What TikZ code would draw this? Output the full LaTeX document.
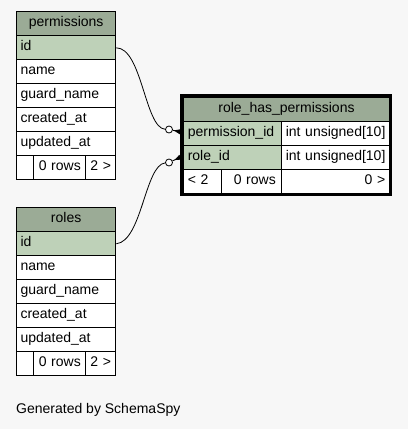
\documentclass[tikz,border=0pt]{standalone}
\usepackage{fontspec}
\setmainfont{Liberation Sans}
\usetikzlibrary{arrows.meta}
\definecolor{bg}{HTML}{F7F7F7}
\definecolor{hdr}{HTML}{9BAB96}
\definecolor{key}{HTML}{BED1B8}
\begin{document}
\begin{tikzpicture}[x=1pt,y=-1pt,
  cell/.style={draw=black, line width=1pt, anchor=north west, inner xsep=4pt, inner ysep=0pt,
    minimum height=24pt, text height=10pt, text depth=4pt,
    font=\fontsize{14}{16}\selectfont, align=left, fill=white},
  hcell/.style={cell, fill=hdr, align=center},
  kcell/.style={cell, fill=key},
  ccell/.style={cell, align=center},
  rcell/.style={cell, align=right},
  odot/.style={circle, draw=black, fill=white, minimum size=7pt, inner sep=0pt, line width=0.8pt},
  rel/.style={line width=0.8pt},
  crow/.style={line width=0.8pt, -{Triangle[reversed,length=7pt,width=5pt]}},
  frame/.style={line width=3pt}
]
\fill[bg] (0,0) rectangle (408,429);

% permissions
\node[hcell, text width=91.3pt] (p-h) at (16,11.3) {permissions};
\node[kcell, text width=91.3pt] (p-id) at (16,35.3) {id};
\node[cell, text width=91.3pt] (p-name) at (16,59.3) {name};
\node[cell, text width=91.3pt] (p-guard) at (16,83.3) {guard\_name};
\node[cell, text width=91.3pt] (p-cr) at (16,107.3) {created\_at};
\node[cell, text width=91.3pt] (p-up) at (16,131.3) {updated\_at};
\node[cell, text width=9.3pt] (p-f1) at (16,155.3) {};
\node[ccell, text width=44pt] (p-f2) at (33.3,155.3) {0 rows};
\node[ccell, text width=22pt] (p-f3) at (85.3,155.3) {2 >};

% roles
\node[hcell, text width=91.3pt] (r-h) at (16,207.3) {roles};
\node[kcell, text width=91.3pt] (r-id) at (16,231.3) {id};
\node[cell, text width=91.3pt] (r-name) at (16,255.3) {name};
\node[cell, text width=91.3pt] (r-guard) at (16,279.3) {guard\_name};
\node[cell, text width=91.3pt] (r-cr) at (16,303.3) {created\_at};
\node[cell, text width=91.3pt] (r-up) at (16,327.3) {updated\_at};
\node[cell, text width=9.3pt] (r-f1) at (16,351.3) {};
\node[ccell, text width=44pt] (r-f2) at (33.3,351.3) {0 rows};
\node[ccell, text width=22pt] (r-f3) at (85.3,351.3) {2 >};

% role_has_permissions
\draw[frame] (181,95.6) rectangle (390,194.1);
\node[hcell, text width=197.4pt, minimum height=23.4pt] (h-h) at (183.3,97.3) {role\_has\_permissions};
\node[kcell, text width=90pt] (h-pid) at (183.3,120.7) {\mbox{permission\_id}};
\node[cell, text width=99.4pt] (h-pidt) at (281.3,120.7) {\mbox{int unsigned[10]}};
\node[kcell, text width=90pt] (h-rid) at (183.3,144.7) {role\_id};
\node[cell, text width=99.4pt] (h-ridt) at (281.3,144.7) {\mbox{int unsigned[10]}};
\node[cell, text width=30pt] (h-f1) at (183.3,168.7) {< 2};
\node[ccell, text width=52pt] (h-f2) at (221.3,168.7) {\hspace*{6pt}0 rows};
\node[rcell, text width=99.4pt] (h-f3) at (281.3,168.7) {0 >};

% relationships
\node[odot] (c1) at (169,129.5) {};
\node[odot] (c2) at (169,162.5) {};
\coordinate (e1) at (180.5,131.8);
\coordinate (e2) at (180.5,157.2);
\draw[rel] (p-id.east) .. controls (142,48) and (145,128) .. (c1);
\draw[rel] (r-id.east) .. controls (142,241) and (145,165) .. (c2);
\draw[crow] (c1) -- (e1);
\draw[crow] (c2) -- (e2);

\node[anchor=base west, inner sep=0pt, font=\fontsize{14}{16}\selectfont] (gen) at (16,413.3) {Generated by SchemaSpy};
\end{tikzpicture}
\end{document}
